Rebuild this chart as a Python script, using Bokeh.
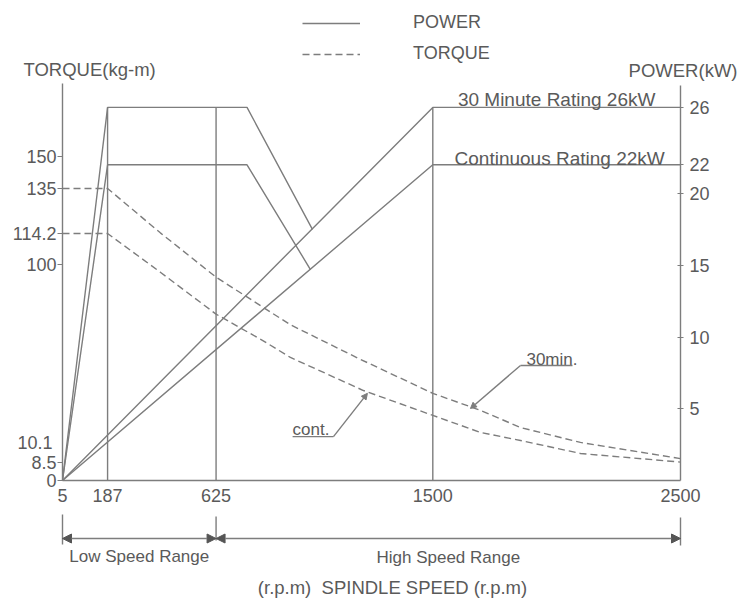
from bokeh.plotting import figure
from bokeh.models import (Range1d, LinearAxis, FixedTicker, CustomJSTickFormatter,
                          Legend, LegendItem, Arrow, NormalHead)
from bokeh.embed import file_html
from bokeh.resources import INLINE
from bokeh.core.properties import value

# ---------------- data ----------------
speed_ticks = [5, 187, 625, 1500, 2500]
torque_ticks = [0, 8.5, 100, 114.2, 135, 150]
torque_end_30min = 10.1
power_ticks = [5, 10, 15, 20, 22, 26]

# power (kW) - low speed range
low_30min_rpm = [5, 187, 750, 1014]
low_30min_kw = [0, 26, 26, 17.5]
low_cont_rpm = [5, 187, 750, 1006]
low_cont_kw = [0, 22, 22, 14.7]
# power (kW) - high speed range
high_30min_rpm = [5, 1500, 2500]
high_30min_kw = [0, 26, 26]
high_cont_rpm = [5, 1500, 2500]
high_cont_kw = [0, 22, 22]
# vertical guide lines
guide_rpm = [187, 625, 1500]
guide_top_kw = [26, 26, 26]

# torque (kg-m)
torque_30min_rpm = [5, 187, 400, 625, 925, 1208, 1500, 1693, 1854, 2096, 2500]
torque_30min = [135, 135, 114.5, 94, 72, 56, 40.3, 32.4, 24.5, 17.6, 10.1]
torque_cont_rpm = [5, 187, 400, 625, 812, 925, 1220, 1500, 1693, 1854, 2096, 2500]
torque_cont = [114.2, 114.2, 96.3, 76.9, 64.8, 56.9, 41.6, 30.1, 22.2, 18.5, 12.5, 8.5]

low_range = [5, 625]
high_range = [625, 2500]

# ---------------- layout constants (pixels) ----------------
W, H = 740, 598
X0, X1 = 62, 680          # pixel position of 5 rpm / 2500 rpm
Y0 = 480                  # pixel row of zero torque / power
T_PX = 2.163              # pixels per kg-m
P_PX = 14.35              # pixels per kW

FONT = "Liberation Sans"
LINE = "#7d7d7d"
TEXT = "#5a5a5a"
LW = 1.4

k = (speed_ticks[-1] - speed_ticks[0]) / (X1 - X0)
x_start = speed_ticks[0] - X0 * k
x_end = speed_ticks[0] + (W - X0) * k

p = figure(width=W, height=H,
           x_range=Range1d(x_start, x_end),
           y_range=Range1d(-(H - Y0) / T_PX, Y0 / T_PX),
           output_backend="svg", toolbar_location=None, title=None,
           x_axis_location=None, y_axis_location=None,
           min_border_left=0, min_border_right=0, min_border_top=0, min_border_bottom=0)
p.extra_y_ranges = {"power": Range1d(-(H - Y0) / P_PX, Y0 / P_PX),
                    "py": Range1d(H, 0)}
p.extra_x_ranges = {"px": Range1d(0, W)}
p.grid.visible = False
p.outline_line_color = None
p.background_fill_color = "white"
p.border_fill_color = "white"

fmt = CustomJSTickFormatter(code="return String(tick);")

xa = LinearAxis(ticker=FixedTicker(ticks=speed_ticks), formatter=fmt,
                fixed_location=0, bounds=(speed_ticks[0], speed_ticks[-1]),
                major_tick_in=0, major_tick_out=0, minor_tick_line_color=None,
                axis_line_color=LINE, axis_line_width=LW, major_label_standoff=8,
                major_label_text_font=FONT, major_label_text_font_size="18px",
                major_label_text_color=TEXT)
p.add_layout(xa, "below")

ya = LinearAxis(ticker=FixedTicker(ticks=torque_ticks),
                formatter=CustomJSTickFormatter(code="return String(tick);"),
                fixed_location=speed_ticks[0], bounds=(0, 183.5),
                major_tick_in=0, major_tick_out=5, minor_tick_line_color=None,
                axis_line_color=LINE, axis_line_width=LW, major_tick_line_color=LINE,
                major_label_standoff=1, major_label_text_font=FONT,
                major_label_text_font_size="18px", major_label_text_color=TEXT)
p.add_layout(ya, "left")

ra = LinearAxis(y_range_name="power", ticker=FixedTicker(ticks=power_ticks),
                formatter=CustomJSTickFormatter(code="return String(tick);"),
                fixed_location=speed_ticks[-1], bounds=(0, 27.5),
                major_tick_in=3, major_tick_out=3, minor_tick_line_color=None,
                axis_line_color=LINE, axis_line_width=LW, major_tick_line_color=LINE,
                major_label_standoff=6, major_label_text_font=FONT,
                major_label_text_font_size="18px", major_label_text_color=TEXT)
p.add_layout(ra, "right")

# power lines
r_p1 = p.line(high_30min_rpm, high_30min_kw, y_range_name="power", line_color=LINE, line_width=LW)
p.line(high_cont_rpm, high_cont_kw, y_range_name="power", line_color=LINE, line_width=LW)
p.line(low_30min_rpm, low_30min_kw, y_range_name="power", line_color=LINE, line_width=LW)
p.line(low_cont_rpm, low_cont_kw, y_range_name="power", line_color=LINE, line_width=LW)
p.segment(x0=guide_rpm, y0=[0] * len(guide_rpm), x1=guide_rpm, y1=guide_top_kw,
          y_range_name="power", line_color=LINE, line_width=LW)

# torque curves
r_t1 = p.line(torque_30min_rpm, torque_30min, line_color=LINE, line_width=LW, line_dash="7 4")
p.line(torque_cont_rpm, torque_cont, line_color=LINE, line_width=LW, line_dash="7 4")

# rating texts
p.text(x=[2000], y=[26.55], text=["30 Minute Rating 26kW"], y_range_name="power",
       text_align="center", text_baseline="alphabetic", text_font=value(FONT),
       text_font_size="19px", text_color=TEXT)
p.text(x=[2012], y=[22.45], text=["Continuous Rating 22kW"], y_range_name="power",
       text_align="center", text_baseline="alphabetic", text_font=value(FONT),
       text_font_size="19px", text_color=TEXT)

# 30min. / cont. callouts
p.text(x=[1878], y=[55.8], text=["30min."], text_align="left", text_baseline="alphabetic",
       text_font=value(FONT), text_font_size="17px", text_color=TEXT)
p.line([2064, 1854], [53.2, 53.2], line_color=LINE, line_width=LW)
p.add_layout(Arrow(end=NormalHead(size=6, fill_color=LINE, line_color=LINE),
                   x_start=1854, y_start=53.2, x_end=1652, y_end=33.3,
                   line_color=LINE, line_width=LW))
p.text(x=[934], y=[23.4], text=["cont."], text_align="left", text_baseline="alphabetic",
       text_font=value(FONT), text_font_size="17px", text_color=TEXT)
p.line([934, 1099], [20.3, 20.3], line_color=LINE, line_width=LW)
p.add_layout(Arrow(end=NormalHead(size=6, fill_color=LINE, line_color=LINE),
                   x_start=1099, y_start=20.3, x_end=1236, y_end=40.3,
                   line_color=LINE, line_width=LW))

# end-torque label beside the left axis
p.text(x=[speed_ticks[0]], y=[torque_end_30min], text=[str(torque_end_30min)],
       x_offset=-10, y_offset=-16, text_align="right", text_baseline="middle",
       text_font=value(FONT), text_font_size="18px", text_color=TEXT)

# axis titles
p.text(x=[23], y=[69], text=["TORQUE(kg-m)"], x_range_name="px", y_range_name="py",
       text_align="left", text_baseline="middle", text_font=value(FONT),
       text_font_size="18.5px", text_color=TEXT)
p.text(x=[737], y=[70], text=["POWER(kW)"], x_range_name="px", y_range_name="py",
       text_align="right", text_baseline="middle", text_font=value(FONT),
       text_font_size="18.5px", text_color=TEXT)

legend = Legend(items=[LegendItem(label="POWER", renderers=[r_p1]),
                       LegendItem(label="TORQUE", renderers=[r_t1])],
                location=(302, H - 64), orientation="vertical", glyph_width=58,
                glyph_height=20, label_height=20, label_standoff=53, spacing=10,
                padding=0, margin=0, border_line_color=None, background_fill_alpha=0,
                label_text_font=FONT, label_text_font_size="18px", label_text_color=TEXT)
p.add_layout(legend)

# ---------------- speed range strip ----------------
marks = [low_range[0], low_range[1], high_range[1]]
p.segment(x0=marks, y0=[514, 516, 517], x1=marks, y1=[544, 540, 545], y_range_name="py",
          line_color=LINE, line_width=LW)
for rng in (low_range, high_range):
    p.add_layout(Arrow(start=NormalHead(size=9, fill_color="#555555", line_color="#555555"),
                       end=NormalHead(size=9, fill_color="#555555", line_color="#555555"),
                       x_start=rng[0], y_start=538, x_end=rng[1], y_end=538,
                       y_range_name="py", line_color=LINE, line_width=LW))
p.text(x=[sum(low_range) / 2, sum(high_range) / 2], y=[556, 557],
       text=["Low Speed Range", "High Speed Range"], y_range_name="py",
       text_align="center", text_baseline="middle", text_font=value(FONT),
       text_font_size="17px", text_color=TEXT)
p.text(x=[392], y=[587], text=["(r.p.m)\u00a0 SPINDLE SPEED (r.p.m)"],
       x_range_name="px", y_range_name="py", text_align="center", text_baseline="middle",
       text_font=value(FONT), text_font_size="18.5px", text_color=TEXT)

open("out.html", "w").write(file_html(p, INLINE))
